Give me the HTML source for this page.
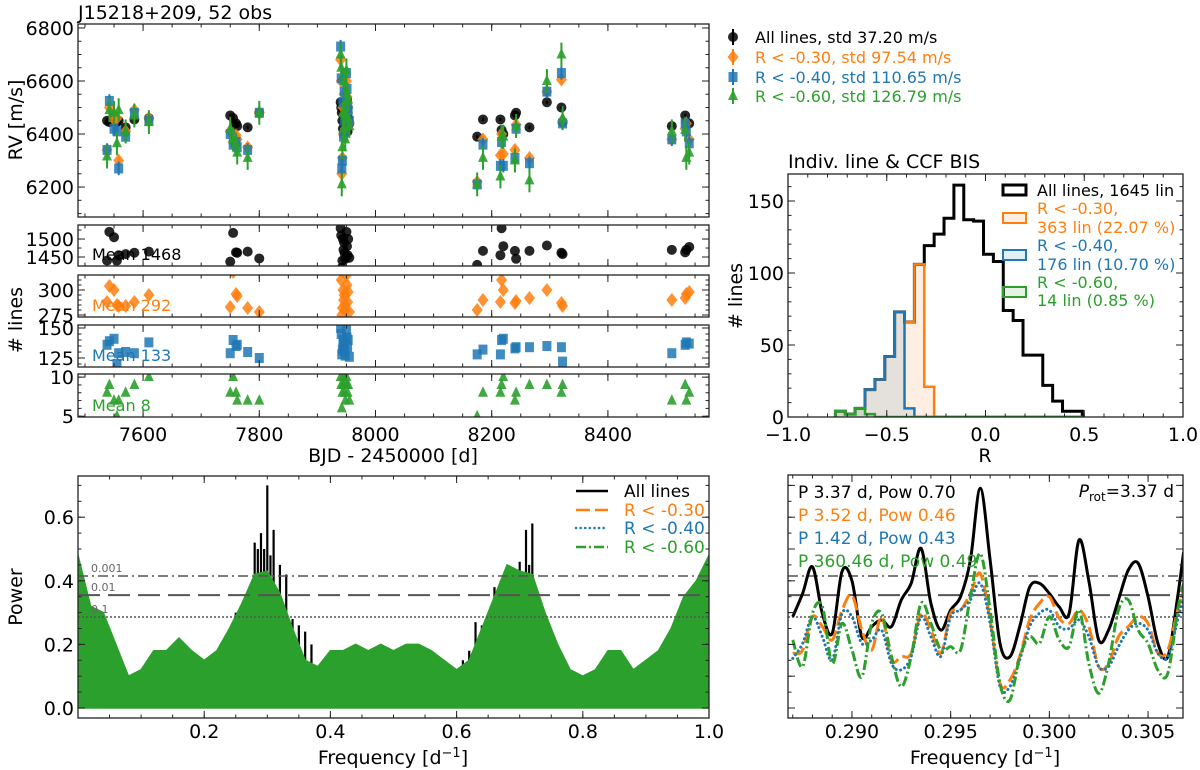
<!DOCTYPE html>
<html><head><meta charset="utf-8"><style>
html,body{margin:0;padding:0;background:#fff;}
svg{display:block;font-family:"DejaVu Sans","Liberation Sans",sans-serif;}
</style></head><body>
<svg id="chart" width="1200" height="770" viewBox="0 0 1200 770" xmlns="http://www.w3.org/2000/svg">
<defs>
<clipPath id="c-rv"><rect x="78" y="24" width="631" height="193"/></clipPath>
<clipPath id="c-n0"><rect x="78" y="225" width="631" height="41"/></clipPath>
<clipPath id="c-n1"><rect x="78" y="275" width="631" height="42"/></clipPath>
<clipPath id="c-n2"><rect x="78" y="325" width="631" height="42"/></clipPath>
<clipPath id="c-n3"><rect x="78" y="374" width="631" height="43"/></clipPath>
<clipPath id="c-pg"><rect x="78" y="476" width="631" height="242"/></clipPath>
<clipPath id="c-zm"><rect x="788" y="475" width="395" height="243"/></clipPath>
<clipPath id="c-hi"><rect x="788" y="174" width="395" height="243"/></clipPath>
</defs>
</svg>
<script>
// ---------- DATA ----------
const obsT=[7538,7542,7550,7555,7558,7570,7585,7610,7750,7755,7760,7762,7780,7800,7940,7941,7942,7943,7944,7945,7946,7947,7948,7950,7951,7952,7953,7955,8175,8185,8215,8217,8220,8240,8242,8265,8295,8320,8322,8510,8533,8535,8540];
const rvAll=[6450,6445,6470,6445,6450,6425,6455,6460,6470,6460,6440,6430,6425,6480,6520,6500,6480,6450,6420,6400,6490,6510,6430,6470,6530,6410,6460,6440,6390,6455,6455,6415,6400,6470,6480,6425,6520,6500,6445,6430,6470,6445,6440];
const rvR30=[6340,6500,6455,6460,6300,6410,6490,6460,6410,6370,6395,6380,6350,6480,6680,6600,6250,6310,6500,6400,6550,6470,6420,6600,6540,6480,6500,6440,6220,6380,6320,6400,6325,6340,6435,6310,6560,6605,6450,6380,6420,6440,6380];
const rvR40=[6340,6525,6420,6410,6270,6390,6480,6450,6400,6360,6370,6350,6340,6480,6730,6610,6270,6300,6520,6390,6560,6450,6410,6630,6570,6500,6490,6450,6210,6360,6280,6370,6280,6310,6420,6290,6560,6630,6440,6380,6440,6410,6365];
const rvR60=[6315,6490,6480,6365,6490,6410,6470,6445,6420,6380,6360,6330,6310,6480,6700,6650,6210,6350,6480,6420,6600,6480,6380,6640,6550,6460,6530,6430,6210,6310,6240,6390,6390,6300,6430,6225,6600,6700,6460,6410,6415,6310,6330];
const errAll=6, errR30=16, errR40=25, errR60=45;
const nAll=[1440,1520,1505,1440,1455,1458,1462,1465,1437,1517,1463,1462,1465,1446,1530,1510,1420,1440,1500,1470,1490,1460,1445,1520,1480,1455,1500,1448,1428,1467,1455,1530,1480,1467,1445,1467,1482,1462,1458,1470,1463,1470,1478];
const nR30=[288,304,300,285,284,284,288,295,283,318,296,294,282,278,320,310,275,282,300,290,295,285,280,315,305,288,298,278,280,290,288,310,300,287,289,292,300,287,284,290,292,296,298];
const nR40=[136,139,141,120,129,130,129,138,129,140,135,136,130,125,150,145,128,132,140,136,138,131,127,148,142,134,140,126,128,132,128,140,141,133,134,134,135,134,122,129,136,138,137];
const nR60=[8,9,7,5,7,8,9,10,8,10,8,7,7,7,10,9,6,8,9,10,9,8,7,10,9,8,9,7,5,8,8,9,10,7,8,9,9,8,9,7,9,7,8];
const nMeans=["Mean 1468","Mean 292","Mean 133","Mean 8"];
const legendRV=["All lines, std 37.20 m/s","R < -0.30, std 97.54 m/s","R < -0.40, std 110.65 m/s","R < -0.60, std 126.79 m/s"];

const histEdges=[-0.76,-0.71,-0.66,-0.61,-0.56,-0.51,-0.46,-0.41,-0.36,-0.31,-0.26,-0.21,-0.16,-0.11,-0.06,-0.01,0.04,0.09,0.14,0.19,0.24,0.29,0.34,0.39,0.44,0.49];
const histAll=[4,2,6,19,26,42,73,66,106,119,127,138,161,137,136,113,108,74,67,43,43,22,11,4,4];
const histR30=[4,2,6,19,26,42,73,66,106,21,0,0,0,0,0,0,0,0,0,0,0,0,0,0,0];
const histR40=[4,2,6,19,26,42,73,6,0,0,0,0,0,0,0,0,0,0,0,0,0,0,0,0,0];
const histR60=[4,2,6,2,0,0,0,0,0,0,0,0,0,0,0,0,0,0,0,0,0,0,0,0,0];
const histLegend=[["All lines, 1645 lin"],["R < -0.30,","363 lin (22.07 %)"],["R < -0.40,","176 lin (10.70 %)"],["R < -0.60,","14 lin (0.85 %)"]];

const pgFreqGreen=[0,0.02,0.04,0.06,0.08,0.10,0.12,0.14,0.16,0.18,0.20,0.22,0.24,0.26,0.28,0.30,0.32,0.34,0.36,0.38,0.40,0.42,0.44,0.46,0.48,0.50,0.52,0.54,0.56,0.58,0.60,0.62,0.64,0.66,0.68,0.70,0.72,0.74,0.76,0.78,0.80,0.82,0.84,0.86,0.88,0.90,0.92,0.94,0.96,0.98,1.00];
const pgGreen=[0.48,0.32,0.30,0.20,0.10,0.12,0.18,0.18,0.22,0.18,0.15,0.18,0.25,0.33,0.42,0.43,0.36,0.25,0.15,0.13,0.18,0.18,0.20,0.18,0.20,0.18,0.20,0.20,0.18,0.15,0.12,0.15,0.25,0.35,0.45,0.43,0.42,0.30,0.20,0.12,0.10,0.12,0.18,0.18,0.12,0.15,0.18,0.25,0.35,0.40,0.48];
const pgFreqBlack=[0.25,0.26,0.27,0.28,0.285,0.29,0.295,0.30,0.305,0.31,0.32,0.33,0.34,0.35,0.36,0.37,0.38,0.61,0.62,0.63,0.64,0.65,0.66,0.67,0.68,0.69,0.70,0.705,0.71,0.715,0.72,0.73,0.74];
const pgBlack=[0.30,0.26,0.33,0.52,0.50,0.55,0.50,0.70,0.48,0.56,0.45,0.42,0.28,0.26,0.24,0.20,0.12,0.15,0.18,0.27,0.26,0.28,0.38,0.40,0.42,0.44,0.46,0.42,0.56,0.45,0.58,0.32,0.25];
const faps=[0.415,0.355,0.286];
const fapLabels=["0.001","0.01","0.1"];
const pgLegend=["All lines","R < -0.30","R < -0.40","R < -0.60"];

const zmFreq=[0.2870,0.2875,0.2880,0.2885,0.2890,0.2895,0.2900,0.2905,0.2910,0.2915,0.2920,0.2925,0.2930,0.2935,0.2940,0.2945,0.2950,0.2955,0.2960,0.2965,0.2970,0.2975,0.2980,0.2985,0.2990,0.2995,0.3000,0.3005,0.3010,0.3015,0.3020,0.3025,0.3030,0.3035,0.3040,0.3045,0.3050,0.3055,0.3060,0.3065,0.3068];
const zmAll=[0.287,0.36,0.444,0.297,0.235,0.43,0.40,0.224,0.256,0.277,0.256,0.34,0.392,0.502,0.329,0.245,0.308,0.35,0.465,0.691,0.465,0.203,0.161,0.256,0.38,0.392,0.36,0.318,0.297,0.528,0.40,0.214,0.245,0.34,0.434,0.455,0.35,0.203,0.161,0.35,0.49];
const zmR30=[0.172,0.182,0.287,0.256,0.214,0.308,0.355,0.245,0.182,0.287,0.151,0.162,0.172,0.298,0.245,0.172,0.298,0.308,0.36,0.423,0.277,0.077,0.088,0.162,0.277,0.329,0.35,0.282,0.266,0.308,0.256,0.13,0.14,0.224,0.256,0.287,0.266,0.172,0.182,0.308,0.376];
const zmR40=[0.156,0.203,0.287,0.224,0.151,0.298,0.287,0.203,0.214,0.245,0.14,0.12,0.162,0.287,0.224,0.162,0.287,0.308,0.34,0.392,0.266,0.067,0.067,0.151,0.256,0.298,0.308,0.256,0.25,0.277,0.224,0.13,0.13,0.193,0.245,0.266,0.245,0.172,0.161,0.277,0.35];
const zmR60=[0.214,0.13,0.298,0.319,0.14,0.266,0.182,0.098,0.266,0.298,0.162,0.067,0.162,0.329,0.266,0.182,0.193,0.182,0.35,0.486,0.308,0.077,0.025,0.161,0.224,0.203,0.287,0.214,0.193,0.308,0.14,0.046,0.14,0.308,0.34,0.245,0.203,0.119,0.109,0.308,0.392];
const zmText=["P 3.37 d, Pow 0.70","P 3.52 d, Pow 0.46","P 1.42 d, Pow 0.43","P 360.46 d, Pow 0.49"];

// ---------- HELPERS ----------
const NS='http://www.w3.org/2000/svg';
const svg=document.getElementById('chart');
const COL=['#000000','#ff7f0e','#1f77b4','#2ca02c'];
function el(tag,attrs,parent){const e=document.createElementNS(NS,tag);for(const k in attrs)e.setAttribute(k,attrs[k]);(parent||svg).appendChild(e);return e;}
function lin(d0,d1,r0,r1){return v=>r0+(v-d0)/(d1-d0)*(r1-r0);}
function txt(p,x,y,s,size,anchor,fill,extra){const t=el('text',Object.assign({x:x,y:y,'font-size':size,'text-anchor':anchor||'start',fill:fill||'#000'},extra||{}),p);t.textContent=s;return t;}
function xticks(p,vals,sc,y0,y1,len){vals.forEach(v=>{const x=sc(v);el('line',{x1:x,x2:x,y1:y1,y2:y1-len,stroke:'#222','stroke-width':1},p);el('line',{x1:x,x2:x,y1:y0,y2:y0+len,stroke:'#222','stroke-width':1},p);});}
function yticks(p,vals,sc,x0,x1,len){vals.forEach(v=>{const y=sc(v);el('line',{x1:x0,x2:x0+len,y1:y,y2:y,stroke:'#222','stroke-width':1},p);el('line',{x1:x1,x2:x1-len,y1:y,y2:y,stroke:'#222','stroke-width':1},p);});}
function range(a,b,s){const r=[];for(let v=a;v<=b+1e-9;v+=s)r.push(+v.toFixed(6));return r;}
function frame(p,x0,y0,x1,y1){el('rect',{x:x0,y:y0,width:x1-x0,height:y1-y0,fill:'none',stroke:'#222','stroke-width':1.3},p);}
function marker(p,shape,x,y,c){
  if(shape===0)return el('circle',{cx:x,cy:y,r:5,fill:c,'fill-opacity':0.85},p);
  if(shape===1)return el('polygon',{points:`${x},${y-7} ${x+5.5},${y} ${x},${y+7} ${x-5.5},${y}`,fill:c,'fill-opacity':0.85},p);
  if(shape===2)return el('rect',{x:x-4.5,y:y-5,width:9,height:10,fill:c,'fill-opacity':0.85},p);
  return el('polygon',{points:`${x},${y-6.5} ${x+5},${y+4} ${x-5},${y+4}`,fill:c,'fill-opacity':0.9},p);
}
function smoothPath(pts){let d=`M${pts[0][0]},${pts[0][1]}`;for(let i=0;i<pts.length-1;i++){const p0=pts[i-1]||pts[i],p1=pts[i],p2=pts[i+1],p3=pts[i+2]||p2;const c1x=p1[0]+(p2[0]-p0[0])/6,c1y=p1[1]+(p2[1]-p0[1])/6,c2x=p2[0]-(p3[0]-p1[0])/6,c2y=p2[1]-(p3[1]-p1[1])/6;d+=` C${c1x},${c1y} ${c2x},${c2y} ${p2[0]},${p2[1]}`;}return d;}

// ---------- RV PANEL ----------
const X=lin(7488,8574,78,709);
const Yrv=lin(6087,6815,217,24);
const gRV=el('g',{});


const title=txt(gRV,78,19,'J15218+209, 52 obs',19);


const rvSeries=[[rvAll,errAll],[rvR30,errR30],[rvR40,errR40],[rvR60,errR60]];
const gRVd=el('g',{'clip-path':'url(#c-rv)'},gRV);


rvSeries.forEach((s,si)=>{
  const g=el('g',{},gRVd);
  
  
  obsT.forEach((t,i)=>{
    const x=X(t),y=Yrv(s[0][i]);
    el('line',{x1:x,x2:x,y1:Yrv(s[0][i]-s[1]),y2:Yrv(s[0][i]+s[1]),stroke:COL[si],'stroke-width':2},g);
    const m=marker(g,si,x,y,COL[si]);
    
    
  });
});
frame(gRV,78,24,709,217);
xticks(gRV,range(7500,8550,50),X,24,217,3.5);
xticks(gRV,range(7600,8400,200),X,24,217,7);
yticks(gRV,range(6100,6800,50),Yrv,78,709,3.5);
yticks(gRV,range(6200,6800,200),Yrv,78,709,7);
range(6200,6800,200).forEach(v=>{const t=txt(gRV,74,Yrv(v)+7,String(v),19,'end');});
const rvY=txt(gRV,0,0,'RV [m/s]',19,'middle','#000',{transform:'translate(22,120) rotate(-90)'});


const gLeg=el('g',{});


[37,57,77,96].forEach((y,i)=>{
  el('line',{x1:733,x2:733,y1:y-8,y2:y+8,stroke:COL[i],'stroke-width':2},gLeg);
  marker(gLeg,i,733,y,COL[i]);
  const t=txt(gLeg,755,y+6,legendRV[i],16,'start',COL[i]);
  
  
});

// ---------- #LINES PANELS ----------
const nPanels=[[nAll,225,266,1425,1539,[1450,1500],range(1425,1525,25),'c-n0'],[nR30,275,317,273,315,[275,300],range(275,310,5),'c-n1'],[nR40,325,367,117.5,152.5,[125,150],range(120,150,5),'c-n2'],[nR60,374,417,4.9,10.4,[5,10],range(5,10,1),'c-n3']];
nPanels.forEach((np,si)=>{
  const g=el('g',{});
  
  
  const Y=lin(np[3],np[4],np[2],np[1]);
  const gd=el('g',{'clip-path':`url(#${np[7]})`},g);
  obsT.forEach((t,i)=>{
    const m=marker(gd,si,X(t),Y(np[0][i]),COL[si]);
    
    
  });
  frame(g,78,np[1],709,np[2]);
  xticks(g,range(7500,8550,50),X,np[1],np[2],3.5);
  xticks(g,range(7600,8400,200),X,np[1],np[2],7);
  yticks(g,np[6],Y,78,709,3.5);
  yticks(g,np[5],Y,78,709,7);
  np[5].forEach(v=>{const t=txt(g,74,Y(v)+7,String(v),19,'end');});
  const mt=txt(g,92,np[2]-6,nMeans[si],16,'start',COL[si]);
  
  
});
range(7600,8400,200).forEach(v=>{const t=txt(svg,X(v),441,String(v),19,'middle');});
const bjd=txt(svg,393,462,'BJD - 2450000 [d]',19,'middle');


const nl=txt(svg,0,0,'# lines',19,'middle','#000',{transform:'translate(22,320) rotate(-90)'});



// ---------- HISTOGRAM ----------
const HX=lin(-1,1,788,1183);
const HY=v=>417-v*1.44;
const gH=el('g',{});


const ht=txt(gH,788,168,'Indiv. line & CCF BIS',19);


function stepPath(counts){let d=`M${HX(histEdges[0])},${HY(0)}`;counts.forEach((c,i)=>{d+=` L${HX(histEdges[i])},${HY(c)} L${HX(histEdges[i+1])},${HY(c)}`;});d+=` L${HX(histEdges[histEdges.length-1])},${HY(0)}`;return d;}
const gHd=el('g',{'clip-path':'url(#c-hi)'},gH);
[[histAll,'none',3],[histR30,'rgba(255,127,14,0.12)',2.5],[histR40,'rgba(31,119,180,0.12)',2.5],[histR60,'rgba(44,160,44,0.12)',2.5]].forEach((h,i)=>{
  const p=el('path',{d:stepPath(h[0]),fill:h[1],stroke:COL[i],'stroke-width':h[2],'stroke-linejoin':'miter'},gHd);
  
  
});
frame(gH,788,174,1183,417);
xticks(gH,range(-1,1,0.1),HX,174,417,3.5);
xticks(gH,range(-1,1,0.5),HX,174,417,7);
yticks(gH,range(0,160,10),HY,788,1183,3.5);
yticks(gH,range(0,150,50),HY,788,1183,7);
range(-1,1,0.5).forEach(v=>{const t=txt(gH,HX(v),441,(v<0?'\u2212':'')+Math.abs(v).toFixed(1),19,'middle');});
range(0,150,50).forEach(v=>{const t=txt(gH,784,HY(v)+7,String(v),19,'end');});
const hx=txt(gH,985,462,'R',19,'middle');


const hy=txt(gH,0,0,'# lines',19,'middle','#000',{transform:'translate(742,296) rotate(-90)'});


const hFill=['#fff','rgba(255,127,14,0.12)','rgba(31,119,180,0.12)','rgba(44,160,44,0.12)'];
const hRows=[[190],[208,227],[245,264],[282,300]];
const hBox=[190,218,255,292];
histLegend.forEach((lines,i)=>{
  const g=el('g',{},gH);
  
  
  el('rect',{x:1003,y:hBox[i]-5,width:23,height:10,fill:hFill[i],stroke:COL[i],'stroke-width':i===0?3:2},g);
  lines.forEach((s,j)=>txt(g,1037,hRows[i][j]+6,s,16,'start',COL[i]));
});

// ---------- PERIODOGRAM ----------
const PX=lin(0,1,78,709);
const PY=v=>708-v*318;
const gP=el('g',{});


const gPd=el('g',{'clip-path':'url(#c-pg)'},gP);
pgFreqBlack.forEach((f,i)=>{
  const l=el('line',{x1:PX(f),x2:PX(f),y1:PY(0),y2:PY(pgBlack[i]),stroke:'#000','stroke-width':2.2},gPd);
  
  
});
let gd=`M${PX(0)},${PY(0)}`;pgFreqGreen.forEach((f,i)=>{gd+=` L${PX(f)},${PY(pgGreen[i])}`;});gd+=` L${PX(1)},${PY(0)} Z`;
const gArea=el('path',{d:gd,fill:'#2ca02c',stroke:'#2ca02c','stroke-width':1.5},gPd);


const dashes=['10,4,2,4','22,8','2,2'];
function fapLines(p,x0,x1,labels){faps.forEach((v,i)=>{const l=el('line',{x1:x0,x2:x1,y1:PY(v),y2:PY(v),stroke:'#555','stroke-width':i===1?2:1.5,'stroke-dasharray':dashes[i]},p);if(labels){const t=txt(p,91,PY(v)-4,fapLabels[i],11,'start','#666');}});}
fapLines(gP,78,709,true);
frame(gP,78,476,709,718);
xticks(gP,range(0,1,0.05),PX,476,718,3.5);
xticks(gP,range(0.2,1,0.2),PX,476,718,7);
yticks(gP,range(0,0.7,0.05),PY,78,709,3.5);
yticks(gP,range(0,0.6,0.2),PY,78,709,7);
range(0.2,1,0.2).forEach(v=>{const t=txt(gP,PX(v),738,v.toFixed(1),19,'middle');});
range(0,0.6,0.2).forEach(v=>{const t=txt(gP,74,PY(v)+7,v.toFixed(1),19,'end');});
const px=txt(gP,393,764,'Frequency [d',19,'middle');


const sup=el('tspan',{dy:-7,'font-size':13},px);sup.textContent='\u22121';
const sup2=el('tspan',{dy:7},px);sup2.textContent=']';
const py=txt(gP,0,0,'Power',19,'middle','#000',{transform:'translate(22,597) rotate(-90)'});


const lineDash=['none','14,5','0.1,4.5','10,3,2,3'];
[491,510,528,547].forEach((y,i)=>{
  const g=el('g',{},gP);
  
  
  el('line',{x1:576,x2:608,y1:y,y2:y,stroke:COL[i],'stroke-width':2.5,'stroke-dasharray':lineDash[i],'stroke-linecap':i===2?'round':'butt'},g);
  txt(g,624,y+6,pgLegend[i],17,'start',COL[i]);
});

// ---------- ZOOMED PERIODOGRAM ----------
const ZX=lin(0.28676,0.30677,788,1183);
const gZ=el('g',{});


const gZd=el('g',{'clip-path':'url(#c-zm)'},gZ);
fapLines(gZd,788,1183,false);
[zmAll,zmR30,zmR40,zmR60].forEach((s,i)=>{
  const pts=zmFreq.map((f,j)=>[ZX(f),PY(s[j])]);
  const p=el('path',{d:smoothPath(pts),fill:'none',stroke:COL[i],'stroke-width':3,'stroke-dasharray':lineDash[i],'stroke-linecap':i===2?'round':'butt'},gZd);
  
  
});
frame(gZ,788,475,1183,718);
xticks(gZ,range(0.287,0.3065,0.001),ZX,475,718,3.5);
xticks(gZ,range(0.290,0.305,0.005),ZX,475,718,7);
yticks(gZ,range(0,0.7,0.05),PY,788,1183,3.5);
yticks(gZ,range(0,0.7,0.1),PY,788,1183,7);
range(0.290,0.305,0.005).forEach(v=>{const t=txt(gZ,ZX(v),738,v.toFixed(3),19,'middle');});
const zx=txt(gZ,985,764,'Frequency [d',19,'middle');


const zs=el('tspan',{dy:-7,'font-size':13},zx);zs.textContent='\u22121';
const zs2=el('tspan',{dy:7},zx);zs2.textContent=']';
[492,515,538,561].forEach((y,i)=>{
  const t=txt(gZ,798,y+6,zmText[i],17,'start',COL[i]);
  
  
});
const pr=txt(gZ,1174,497,'',17,'end');


const pr1=el('tspan',{'font-style':'italic'},pr);pr1.textContent='P';
const pr2=el('tspan',{'font-size':12,dy:4},pr);pr2.textContent='rot';
const pr3=el('tspan',{dy:-4},pr);pr3.textContent='=3.37 d';
</script>
</body></html>
